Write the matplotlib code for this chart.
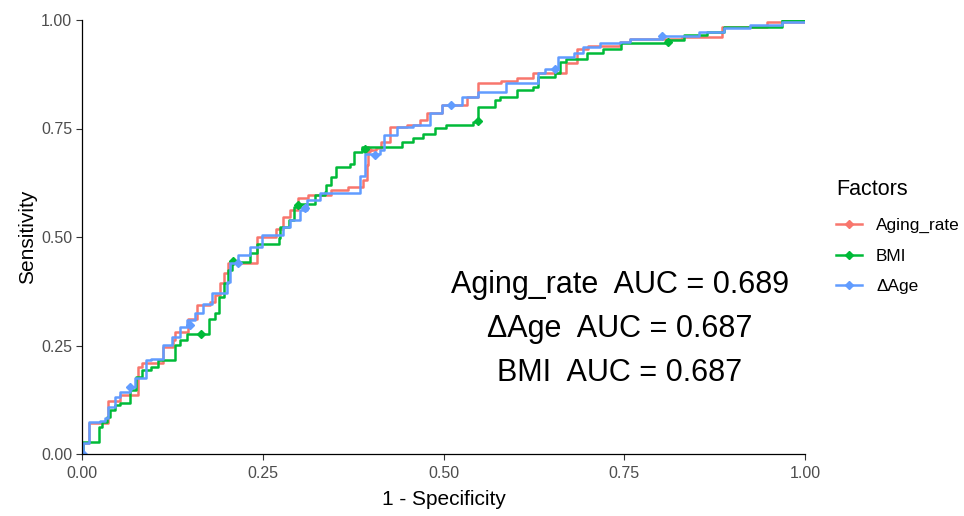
import numpy as np
import matplotlib.pyplot as plt
from matplotlib.lines import Line2D

plt.rcParams['font.family'] = ['Liberation Sans', 'DejaVu Sans']

# ROC step corners (1 - specificity, sensitivity)
aging_fpr = [0, 0.002, 0.009, 0.036, 0.052, 0.078, 0.083, 0.112, 0.126, 0.129, 0.147,
             0.159, 0.177, 0.184, 0.191, 0.197, 0.202, 0.242, 0.269, 0.278, 0.288,
             0.299, 0.313, 0.345, 0.368, 0.389, 0.394, 0.396, 0.407, 0.414, 0.426,
             0.449, 0.468, 0.477, 0.498, 0.532, 0.548, 0.580, 0.601, 0.624, 0.670,
             0.684, 0.700, 0.744, 0.758, 0.830, 0.885, 0.947, 1.0]
aging_tpr = [0, 0.025, 0.071, 0.121, 0.135, 0.201, 0.209, 0.247, 0.262, 0.281, 0.312,
             0.343, 0.351, 0.366, 0.393, 0.416, 0.439, 0.501, 0.519, 0.547, 0.562,
             0.589, 0.597, 0.608, 0.616, 0.631, 0.666, 0.700, 0.704, 0.719, 0.754,
             0.758, 0.769, 0.785, 0.804, 0.823, 0.854, 0.860, 0.867, 0.877, 0.900,
             0.934, 0.940, 0.950, 0.956, 0.960, 0.985, 0.996, 1.0]

bmi_fpr = [0, 0.002, 0.023, 0.027, 0.034, 0.039, 0.046, 0.052, 0.066, 0.075, 0.083,
           0.096, 0.105, 0.129, 0.135, 0.145, 0.175, 0.184, 0.189, 0.197, 0.202,
           0.207, 0.232, 0.242, 0.272, 0.274, 0.286, 0.293, 0.302, 0.322, 0.336,
           0.338, 0.345, 0.352, 0.371, 0.376, 0.387, 0.443, 0.458, 0.472, 0.488,
           0.504, 0.541, 0.548, 0.571, 0.578, 0.601, 0.624, 0.631, 0.654, 0.661,
           0.670, 0.698, 0.721, 0.746, 0.808, 0.832, 0.864, 0.888, 0.968, 1.0]
bmi_tpr = [0, 0.028, 0.063, 0.074, 0.086, 0.101, 0.113, 0.117, 0.147, 0.178, 0.193,
           0.201, 0.216, 0.251, 0.262, 0.276, 0.312, 0.324, 0.362, 0.393, 0.424,
           0.443, 0.462, 0.485, 0.497, 0.524, 0.539, 0.570, 0.577, 0.597, 0.604,
           0.620, 0.639, 0.662, 0.669, 0.696, 0.708, 0.719, 0.727, 0.738, 0.751,
           0.758, 0.766, 0.800, 0.816, 0.823, 0.839, 0.846, 0.869, 0.877, 0.904,
           0.911, 0.923, 0.934, 0.946, 0.954, 0.965, 0.973, 0.985, 1.0, 1.0]

dage_fpr = [0, 0.002, 0.009, 0.025, 0.032, 0.036, 0.045, 0.052, 0.066, 0.073, 0.089,
            0.096, 0.112, 0.124, 0.135, 0.145, 0.156, 0.168, 0.180, 0.200, 0.205,
            0.216, 0.232, 0.249, 0.278, 0.288, 0.302, 0.311, 0.329, 0.384, 0.391,
            0.412, 0.418, 0.435, 0.458, 0.481, 0.498, 0.525, 0.548, 0.587, 0.631,
            0.641, 0.659, 0.680, 0.693, 0.717, 0.744, 0.758, 0.800, 0.853, 0.888,
            0.924, 0.968, 1.0]
dage_tpr = [0, 0.025, 0.074, 0.077, 0.083, 0.109, 0.132, 0.143, 0.155, 0.174, 0.216,
            0.220, 0.251, 0.270, 0.293, 0.309, 0.324, 0.345, 0.370, 0.397, 0.439,
            0.458, 0.478, 0.505, 0.524, 0.539, 0.562, 0.585, 0.601, 0.640, 0.692,
            0.700, 0.735, 0.754, 0.758, 0.785, 0.804, 0.823, 0.835, 0.854, 0.877,
            0.888, 0.915, 0.923, 0.938, 0.946, 0.950, 0.956, 0.962, 0.973, 0.981,
            0.988, 0.996, 0.996]

# marked points
aging_pts = [(0.396, 0.700)]
bmi_pts = [(0.165, 0.276), (0.209, 0.445), (0.299, 0.573), (0.391, 0.702),
           (0.548, 0.767), (0.810, 0.950)]
dage_pts = [(0.002, 0.0), (0.066, 0.155), (0.149, 0.297), (0.216, 0.439), (0.308, 0.566),
            (0.405, 0.689), (0.511, 0.805), (0.654, 0.888), (0.802, 0.964)]

labels = ['Aging_rate', 'BMI', '\u0394Age']
colors = ['#F8766D', '#00BA38', '#619CFF']
auc_text = ['Aging_rate  AUC = 0.689', '\u0394Age  AUC = 0.687', 'BMI  AUC = 0.687']

fig = plt.figure(figsize=(9.64, 5.16), dpi=100)
ax = fig.add_axes([82 / 964, 62 / 516, 723 / 964, 434 / 516])

series = [(aging_fpr, aging_tpr, aging_pts), (bmi_fpr, bmi_tpr, bmi_pts),
          (dage_fpr, dage_tpr, dage_pts)]
handles = []
for (fx, ty, pts), lab, col in zip(series, labels, colors):
    ax.plot(fx, ty, drawstyle='steps-post', color=col, lw=1.8)
    p = np.array(pts)
    ax.plot(p[:, 0], p[:, 1], ls='none', marker='D', markersize=4, color=col)
    handles.append(Line2D([], [], color=col, lw=1.8, marker='D', markersize=4, label=lab))

ax.set_xlim(0, 1)
ax.set_ylim(0, 1)
ticks = [0, 0.25, 0.5, 0.75, 1.0]
ax.set_xticks(ticks)
ax.set_yticks(ticks)
ax.set_xticklabels(['0.00', '0.25', '0.50', '0.75', '1.00'])
ax.set_yticklabels(['0.00', '0.25', '0.50', '0.75', '1.00'])
ax.tick_params(colors='#333333', labelcolor='#4D4D4D', labelsize=11.5,
               length=4, width=0.8, pad=3)
ax.tick_params(axis='x', pad=5)
ax.spines['top'].set_visible(False)
ax.spines['right'].set_visible(False)
ax.spines['left'].set_linewidth(0.9)
ax.spines['bottom'].set_linewidth(0.9)
ax.set_xlabel('1 - Specificity', fontsize=15, labelpad=6)
ax.set_ylabel('Sensitivity', fontsize=15, labelpad=3)

for i, t in enumerate(auc_text):
    ax.text(0.744, 0.389 - i * 0.101, t, ha='center', va='center', fontsize=22)

leg = ax.legend(handles=handles, title='Factors', loc='upper left',
                bbox_to_anchor=(1.034, 0.65), frameon=False, fontsize=12.4,
                title_fontsize=15.5, handlelength=1.5, handletextpad=0.8,
                labelspacing=0.9, borderaxespad=0, numpoints=1)
leg._legend_box.align = 'left'
leg._legend_box.sep = 13

fig.savefig('out.png', dpi=100)
